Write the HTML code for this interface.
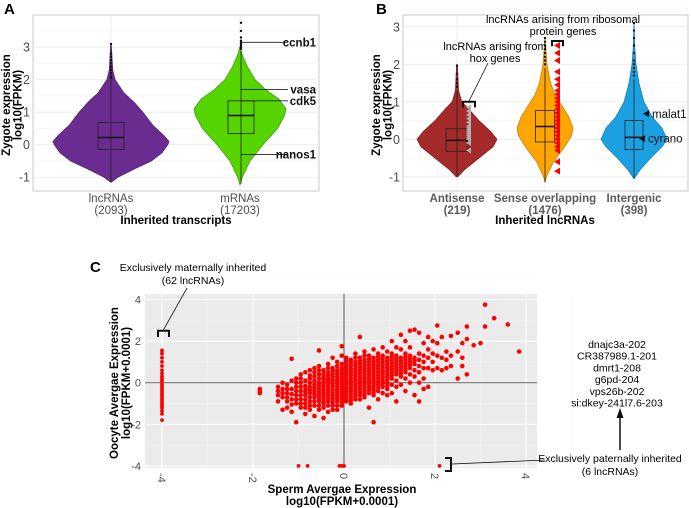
<!DOCTYPE html>
<html><head><meta charset="utf-8"><style>
body{margin:0;background:#fff}
svg{display:block;font-family:"Liberation Sans",Arial,sans-serif}
</style></head><body>
<svg id="fig" width="691" height="508" viewBox="0 0 691 508" xmlns="http://www.w3.org/2000/svg">
<g id="gA"></g>
<g id="gB"></g>
<g id="gC"></g>
</svg>
<script>
// ---------- Panel A data ----------
const aCategories=["lncRNAs","mRNAs"];
const aCounts=["(2093)","(17203)"];
const aTicks=[-1,0,1,2,3];
const lncLevels=[-1.15,-1.0,-0.75,-0.5,-0.25,0,0.1,0.3,0.6,1.0,1.3,1.6,2.0,2.3,3.1];
const lncDensity=[0.01,0.12,0.4,0.7,0.88,0.98,1.0,0.9,0.72,0.55,0.4,0.22,0.07,0.03,0.005];
const mrnaLevels=[-1.25,-1.0,-0.5,0,0.5,0.9,1.1,1.4,1.7,2.0,2.4,2.8,3.0];
const mrnaDensity=[0.0,0.05,0.22,0.5,0.82,0.97,1.0,0.85,0.55,0.33,0.16,0.04,0.01];
const aBoxStats=[[-1.15,-0.15,0.22,0.68,2.0],[-1.2,0.34,0.9,1.35,2.9]];
const aOutliers=[[2.05,2.1,2.2,2.3,2.4,2.5,2.6,2.7,2.8,3.1],[2.95,3.0,3.05,3.1,3.15,3.2,3.3,3.5,3.75]];
const aGenes=["ccnb1","vasa","cdk5","nanos1"];
const aGeneValues=[3.15,1.7,1.35,-0.3];
// ---------- Panel B data ----------
const bCategories=["Antisense","Sense overlapping","Intergenic"];
const bCounts=["(219)","(1476)","(398)"];
const bTicks=[-1,0,1,2,3];
const antiLevels=[-1.0,-0.8,-0.5,-0.2,0,0.2,0.5,0.8,1.0,1.3,2.0];
const antiDensity=[0.02,0.2,0.55,0.9,1.0,0.85,0.55,0.3,0.12,0.04,0.01];
const senseLevels=[-1.15,-1.0,-0.6,-0.2,0.1,0.3,0.6,0.9,1.2,1.5,2.0,2.5,2.7];
const senseDensity=[0,0.05,0.3,0.7,0.95,1.0,0.85,0.6,0.35,0.2,0.07,0.02,0.005];
const interLevels=[-1.05,-0.8,-0.5,-0.2,0,0.3,0.6,1.0,1.5,2.0,2.5,3.1];
const interDensity=[0,0.2,0.5,0.85,1.0,0.85,0.55,0.3,0.15,0.06,0.02,0.003];
const bBoxStats=[[-1.0,-0.32,-0.03,0.28,1.3],[-1.15,-0.07,0.34,0.77,1.9],[-1.05,-0.27,0.05,0.5,1.6]];
const bOutliers=[[1.4,1.5,1.6,1.75,1.95],[2.0,2.1,2.2,2.3,2.4,2.5,2.6,2.7],[1.7,1.8,1.9,2.0,2.1,2.3,2.5,2.7,2.9,3.1]];
const hoxValues=[-0.3,-0.1,0.0,0.05,0.1,0.15,0.2,0.25,0.3,0.35,0.45,0.55,0.65,0.75,0.85];
const riboValues=[-0.85,-0.6,-0.3,-0.2,-0.1,0,0.1,0.2,0.3,0.4,0.5,0.6,0.7,0.8,0.9,1.0,1.1,1.2,1.3,1.45,1.6,1.8,2.1,2.3,2.5];
const bGenes=["malat1","cyrano"];
const bGeneValues=[0.68,0.02];
// ---------- Panel C data ----------
const cTicks=[-4,-2,0,2,4];
const spermCols=[-1.85,-1.45,-1.35,-1.25,-1.15,-1.05,-0.95,-0.85,-0.75,-0.65,-0.55,-0.45,-0.35,-0.25,-0.15,-0.05,0.05,0.15,0.25,0.35,0.45,0.55,0.65,0.75,0.85,0.95,1.05,1.15,1.25,1.35,1.45,1.55,1.65,1.75,1.85,1.95,2.05,2.15,2.25,2.35,2.5,2.6,2.7,2.85,3.0,3.1,3.3,3.6,3.85];
const oocyteCols=[
[-0.3,-0.4,-0.5],
[-0.9,-0.4,-0.2,-0.6],
[-0.7,-0.3,-1.3,0.0,-0.5],
[-0.5,-0.9,-0.1,-1.2,-0.7,-0.3],
[-0.3,-0.8,0.1,-1.4,1.15,-0.55,-1.05],
[-0.6,-0.2,-1.0,0.2,-1.9,-0.4,-0.8,0.0],
[-0.4,-0.8,0.0,-1.2,0.4,-0.6,-0.2,-1.0,0.2],
[-0.3,-0.6,-1.0,0.1,0.5,-1.5,-0.45,-0.8,-0.15,-1.2],
[-0.2,-0.5,-0.9,0.2,-1.3,0.6,-0.35,-0.7,0.0,-1.1,0.35],
[-0.1,-0.4,-0.7,0.3,-1.1,0.7,-1.6,-0.25,-0.55,-0.9,0.1,0.5],
[0.0,-0.3,-0.6,0.4,-0.9,0.8,-1.3,1.55,-0.15,-0.45,-0.75,0.2,-1.1,0.6],
[0.1,-0.2,-0.5,0.3,-0.8,0.6,-1.2,-1.7,-0.05,-0.35,-0.65,0.45,-1.0,0.2,-0.95],
[0.0,-0.3,-0.6,0.2,0.5,-0.9,0.9,-1.4,-0.15,-0.45,-0.75,0.35,-1.1,0.1,0.7],
[0.1,-0.2,-0.5,0.4,-0.8,0.7,-1.1,1.2,-0.05,-0.35,-0.65,0.25,-0.95,0.55,-1.3],
[0.0,-0.3,0.3,-0.6,0.6,-0.9,1.0,-1.3,0.15,-0.15,-0.45,0.45,-0.75,0.8,-1.1],
[0.1,-0.2,0.4,-0.5,0.7,-0.8,1.3,-1.1,1.75,-0.05,0.25,-0.35,0.55,-0.65,0.9,-0.95],
[0.0,0.3,-0.3,0.6,-0.6,0.9,-0.9,1.2,0.15,-0.15,0.45,-0.45,0.75,-0.75,1.05],
[0.2,-0.1,0.5,-0.4,0.8,-0.7,1.1,-1.0,0.05,0.35,-0.25,0.65,-0.55,0.95,-0.85],
[0.1,0.4,-0.2,0.7,-0.5,1.0,-0.8,1.4,0.25,0.55,-0.05,0.85,-0.35,1.2,-0.65],
[0.3,0.0,0.6,-0.3,0.9,-0.6,1.2,2.2,0.15,0.45,-0.15,0.75,-0.45,1.05,-0.8],
[0.2,0.5,-0.1,0.8,-0.4,1.1,-0.7,1.5,0.35,0.65,0.05,0.95,-0.25,1.3,-0.55],
[0.4,0.1,0.7,-0.2,1.0,-0.5,1.3,-1.2,0.25,0.55,-0.05,0.85,-0.35,1.15],
[0.3,0.6,0.0,0.9,-0.3,1.2,-0.6,1.6,-1.9,0.45,0.15,0.75,-0.15,1.05,-0.45],
[0.5,0.2,0.8,-0.1,1.1,-0.4,1.4,-0.8,0.35,0.65,0.05,0.95,-0.25,1.25],
[0.4,0.7,0.1,1.0,-0.2,1.3,-0.5,1.7,0.55,0.25,0.85,-0.05,1.15],
[0.6,0.3,0.9,0.0,1.2,-0.3,1.5,-0.6,0.45,0.75,0.15,1.05,-0.15],
[0.5,0.8,0.2,1.1,-0.1,1.4,-0.5,2.0,0.65,0.35,0.95,1.25],
[0.7,0.4,1.0,0.1,1.3,-0.2,1.7,-0.9,0.55,0.85,1.15],
[0.6,0.9,0.3,1.2,-0.1,1.6,2.3,0.75,1.05,0.45],
[0.8,0.5,1.1,0.2,1.4,-0.4,2.0,0.95,1.25,0.65],
[0.7,1.0,0.4,1.3,0.0,1.7,2.5,0.85,1.15],
[0.9,0.6,1.2,0.3,-0.6,2.55,1.05],
[1.1,0.5,1.4,0.0,-0.9,2.4,0.8],
[1.0,1.3,0.2,1.9,-0.3,0.7],
[1.2,0.7,1.6,-0.2,2.2],
[1.0,1.4,0.6,2.0],
[1.3,0.7,2.75,1.9],
[0.6,1.2,2.2],
[1.1,1.5,0.7],
[2.25,0.8,1.3],
[1.5,0.2,2.4],
[1.2,0.8,1.9],
[2.1,2.7,0.4],
[1.8],[1.9],[3.75,2.7],[3.1],[2.8],[1.5]
];
const maternalValues=[-1.8,-1.5,-1.35,-1.2,-1.1,-1.0,-0.9,-0.8,-0.7,-0.6,-0.5,-0.4,-0.3,-0.2,-0.1,0,0.1,0.2,0.3,0.45,0.6,0.8,1.0,1.2,1.4,1.55];
const paternalValues=[-1.0,-0.8,-0.1,-0.05,0.0,2.1];
const paternalGenes=["dnajc3a-202","CR387989.1-201","dmrt1-208","g6pd-204","vps26b-202","si:dkey-241l7.6-203"];

const NS="http://www.w3.org/2000/svg";
function el(parent,tag,attrs,text){const e=document.createElementNS(NS,tag);for(const k in attrs)e.setAttribute(k,attrs[k]);if(text!==undefined)e.textContent=text;parent.appendChild(e);return e;}

function violinPanel(g,opt){
  const ys=v=>opt.y0-v*opt.unit;
  el(g,"rect",{x:opt.px,y:opt.py,width:opt.pw,height:opt.ph,fill:"#fff",stroke:"#c8c8c8","stroke-width":1});
  opt.ticks.forEach(t=>{
    const l=el(g,"line",{x1:opt.px,x2:opt.px+opt.pw,y1:ys(t),y2:ys(t),stroke:"#ebebeb","stroke-width":0.8});
    
    const m=el(g,"line",{x1:opt.px,x2:opt.px+opt.pw,y1:ys(t+0.5),y2:ys(t+0.5),stroke:"#f4f4f4","stroke-width":0.6});
    
    const tl=el(g,"text",{x:opt.px-3,y:ys(t)+4.5,"text-anchor":"end","font-size":12.5,fill:"#4d4d4d"},String(t));
    
  });
  opt.centers.forEach(cx=>{
    const l=el(g,"line",{x1:cx,x2:cx,y1:opt.py,y2:opt.py+opt.ph,stroke:"#ebebeb","stroke-width":0.8});
    
  });
}
function violin(g,cx,levels,dens,half,ys,fill,stroke){
  let L=[],R=[];
  levels.forEach((v,i)=>{R.push((cx+dens[i]*half).toFixed(1)+","+ys(v).toFixed(1));L.unshift((cx-dens[i]*half).toFixed(1)+","+ys(v).toFixed(1));});
  const p=el(g,"polygon",{points:R.concat(L).join(" "),fill:fill,stroke:stroke,"stroke-width":0.7,"stroke-linejoin":"round"});
  
  
}
function boxplot(g,cx,bw,st,outs,ys){
  const w=el(g,"line",{x1:cx,x2:cx,y1:ys(st[0]),y2:ys(st[4]),stroke:"#222","stroke-width":0.8});
  
  const b=el(g,"rect",{x:cx-bw/2,y:ys(st[3]),width:bw,height:ys(st[1])-ys(st[3]),fill:"none",stroke:"#222","stroke-width":0.8});
  
  const m=el(g,"line",{x1:cx-bw/2,x2:cx+bw/2,y1:ys(st[2]),y2:ys(st[2]),stroke:"#111","stroke-width":1.5});
  
  outs.forEach(o=>{const c=el(g,"circle",{cx:cx,cy:ys(o),r:1.2,fill:"#111"});});
}

// ---------- Panel A ----------
(function(){
  const g=document.getElementById("gA");
  const opt={px:33,py:15,pw:286,ph:176,y0:144.7,unit:32.5,ticks:aTicks,centers:[111,240]};
  const ys=v=>opt.y0-v*opt.unit;
  violinPanel(g,opt);
  violin(g,111,lncLevels,lncDensity,58,ys,"#6a2c91","#4a1f66");
  violin(g,240,mrnaLevels,mrnaDensity,46,ys,"#55d400","#3a9a00");
  boxplot(g,111,26,aBoxStats[0],aOutliers[0],ys);
  boxplot(g,241,26,aBoxStats[1],aOutliers[1],ys);
  aGenes.forEach((n,i)=>{
    const l=el(g,"line",{x1:241,x2:288,y1:ys(aGeneValues[i]),y2:ys(aGeneValues[i]),stroke:"#222","stroke-width":0.8});
    
    const t=el(g,"text",{x:316,y:ys(aGeneValues[i])+4,"text-anchor":"end","font-size":11.5,"font-weight":"bold",fill:"#111"},n);
    
  });
  aCategories.forEach((c,i)=>{
    const t=el(g,"text",{x:opt.centers[i],y:202,"text-anchor":"middle","font-size":11.5,fill:"#4d4d4d"},c);
    
    const t2=el(g,"text",{x:opt.centers[i],y:214,"text-anchor":"middle","font-size":11.5,fill:"#4d4d4d"},aCounts[i]);
    
  });
  el(g,"text",{x:176,y:224,"text-anchor":"middle","font-size":11.5,"font-weight":"bold"},"Inherited transcripts");
  const yt=el(g,"text",{transform:"translate(10,105) rotate(-90)","text-anchor":"middle","font-size":11.5,"font-weight":"bold"});
  
  el(yt,"tspan",{x:0,dy:0},"Zygote expression");el(yt,"tspan",{x:0,dy:11.5},"log10(FPKM)");
  el(g,"text",{x:4,y:14,"font-size":15,"font-weight":"bold"},"A");
})();

// ---------- Panel B ----------
(function(){
  const g=document.getElementById("gB");
  const opt={px:403,py:15,pw:285,ph:176,y0:139.3,unit:37.5,ticks:bTicks,centers:[457,545,634]};
  const ys=v=>opt.y0-v*opt.unit;
  violinPanel(g,opt);
  violin(g,457,antiLevels,antiDensity,40,ys,"#a52a2a","#7a1e1e");
  violin(g,545,senseLevels,senseDensity,28,ys,"#ffa500","#c07a00");
  violin(g,634,interLevels,interDensity,33,ys,"#1ba1e2","#1378aa");
  boxplot(g,457,22,bBoxStats[0],bOutliers[0],ys);
  boxplot(g,545,19,bBoxStats[1],bOutliers[1],ys);
  boxplot(g,634,18,bBoxStats[2],bOutliers[2],ys);
  hoxValues.forEach(v=>{const p=el(g,"polygon",{points:`${466},${ys(v)} ${471},${ys(v)-3} ${471},${ys(v)+3}`,fill:"#b0b0b0"});});
  riboValues.forEach(v=>{const p=el(g,"polygon",{points:`${554},${ys(v)} ${560},${ys(v)-3.5} ${560},${ys(v)+3.5}`,fill:"#f00"});});
  bGenes.forEach((n,i)=>{
    const y=ys(bGeneValues[i]);const x=i===0?648:644;
    el(g,"polygon",{points:`${x-5},${y} ${x+1},${y-3.5} ${x+1},${y+3.5}`,fill:"#111"});
    el(g,"text",{x:x+4,y:y+4,"font-size":11.5,fill:"#111"},n);
  });
  el(g,"path",{d:`M463,${ys(0.85)} V${ys(1.0)} H475 V${ys(0.85)}`,fill:"none",stroke:"#111","stroke-width":2});
  el(g,"line",{x1:469,y1:ys(1.02),x2:488,y2:63,stroke:"#111","stroke-width":0.8});
  el(g,"text",{x:495,y:50,"text-anchor":"middle","font-size":11},"lncRNAs arising from");
  el(g,"text",{x:495,y:62,"text-anchor":"middle","font-size":11},"hox genes");
  el(g,"path",{d:`M552,${ys(2.48)} V${ys(2.62)} H563 V${ys(2.48)}`,fill:"none",stroke:"#111","stroke-width":2});
  el(g,"text",{x:563,y:23,"text-anchor":"middle","font-size":11},"lncRNAs arising from ribosomal");
  el(g,"text",{x:563,y:35,"text-anchor":"middle","font-size":11},"protein genes");
  bCategories.forEach((c,i)=>{
    el(g,"text",{x:opt.centers[i],y:202,"text-anchor":"middle","font-size":11.5,"font-weight":"bold",fill:"#5a5a5a"},c);
    el(g,"text",{x:opt.centers[i],y:214,"text-anchor":"middle","font-size":11.5,"font-weight":"bold",fill:"#5a5a5a"},bCounts[i]);
  });
  el(g,"text",{x:545,y:224,"text-anchor":"middle","font-size":11.5,"font-weight":"bold"},"Inherited lncRNAs");
  const yt=el(g,"text",{transform:"translate(380,105) rotate(-90)","text-anchor":"middle","font-size":11.5,"font-weight":"bold"});
  
  el(yt,"tspan",{x:0,dy:0},"Zygote expression");el(yt,"tspan",{x:0,dy:11.5},"log10(FPKM)");
  el(g,"text",{x:376,y:14,"font-size":15,"font-weight":"bold"},"B");
})();

// ---------- Panel C ----------
(function(){
  const g=document.getElementById("gC");
  const px=145,py=294,pw=392,ph=174;
  const xs=v=>344+v*45.5, ys=v=>382.7-v*20.8;
  el(g,"rect",{x:px,y:py,width:pw,height:ph,fill:"#ebebeb"});
  cTicks.forEach(t=>{
    el(g,"line",{x1:xs(t),x2:xs(t),y1:py,y2:py+ph,stroke:"#fff","stroke-width":1});
    el(g,"line",{x1:px,x2:px+pw,y1:ys(t),y2:ys(t),stroke:"#fff","stroke-width":1});
    el(g,"line",{x1:xs(t+1),x2:xs(t+1),y1:py,y2:py+ph,stroke:"#f4f4f4","stroke-width":0.5});
    el(g,"line",{x1:px,x2:px+pw,y1:ys(t+1),y2:ys(t+1),stroke:"#f4f4f4","stroke-width":0.5});
    el(g,"text",{x:px-4,y:ys(t)+4,"text-anchor":"end","font-size":11,fill:"#4d4d4d"},String(t));
    el(g,"text",{transform:`translate(${xs(t)-4},${py+ph+5}) rotate(90)`,"font-size":11,fill:"#4d4d4d"},String(t));
  });
  el(g,"line",{x1:xs(0),x2:xs(0),y1:py,y2:py+ph,stroke:"#555","stroke-width":1});
  el(g,"line",{x1:px,x2:px+pw,y1:ys(0),y2:ys(0),stroke:"#777","stroke-width":1.2});
  spermCols.forEach((sx,i)=>{
    oocyteCols[i].forEach(oy=>{
      const c=el(g,"circle",{cx:xs(sx),cy:ys(oy),r:2.3,fill:"#f00"});
      
    });
  });
  maternalValues.forEach(v=>{const c=el(g,"circle",{cx:xs(-4),cy:ys(v),r:1.9,fill:"#f00"});});
  paternalValues.forEach(v=>{const c=el(g,"circle",{cx:xs(v),cy:ys(-4),r:1.9,fill:"#f00"});});
  el(g,"path",{d:`M158,${ys(2.2)} V${ys(2.5)} H169 V${ys(2.2)}`,fill:"none",stroke:"#111","stroke-width":2});
  el(g,"line",{x1:163,y1:ys(2.5),x2:187,y2:288,stroke:"#111","stroke-width":0.8});
  el(g,"text",{x:193,y:271,"text-anchor":"middle","font-size":10.5},"Exclusively maternally inherited");
  el(g,"text",{x:193,y:284,"text-anchor":"middle","font-size":10.5},"(62 lncRNAs)");
  el(g,"path",{d:`M445,458 H451 V471 H445`,fill:"none",stroke:"#111","stroke-width":2});
  el(g,"line",{x1:452,y1:464,x2:545,y2:460,stroke:"#111","stroke-width":0.8});
  el(g,"text",{x:610,y:462,"text-anchor":"middle","font-size":10.5},"Exclusively paternally inherited");
  el(g,"text",{x:610,y:475,"text-anchor":"middle","font-size":10.5},"(6 lncRNAs)");
  el(g,"line",{x1:620,y1:450,x2:620,y2:415,stroke:"#111","stroke-width":1.5});
  el(g,"polygon",{points:"620,408 616.5,418 623.5,418",fill:"#111"});
  paternalGenes.forEach((n,i)=>{
    el(g,"text",{x:617,y:348+i*11.7,"text-anchor":"middle","font-size":10.5},n);
  });
  el(g,"text",{x:342,y:493,"text-anchor":"middle","font-size":11.5,"font-weight":"bold"},"Sperm Avergae Expression");
  el(g,"text",{x:342,y:505,"text-anchor":"middle","font-size":11.5,"font-weight":"bold"},"log10(FPKM+0.0001)");
  const yt=el(g,"text",{transform:"translate(118,383) rotate(-90)","text-anchor":"middle","font-size":11.5,"font-weight":"bold"});
  
  el(yt,"tspan",{x:0,dy:0},"Oocyte Avergae Expression");el(yt,"tspan",{x:0,dy:12},"log10(FPKM+0.0001)");
  el(g,"text",{x:90,y:272,"font-size":15,"font-weight":"bold"},"C");
})();
</script>
</body></html>
